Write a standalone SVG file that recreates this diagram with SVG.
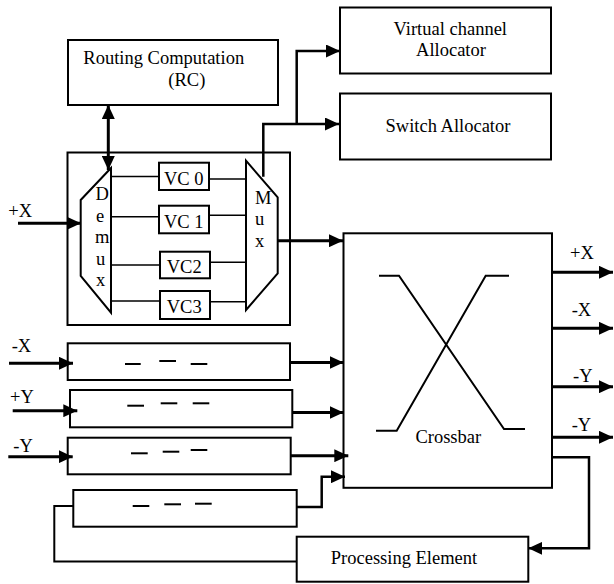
<svg xmlns="http://www.w3.org/2000/svg" width="614" height="584" viewBox="0 0 614 584">
  <style>
    .box { fill: #fff; stroke: #000; stroke-width: 2; }
    .shape { fill: none; stroke: #000; stroke-width: 2; stroke-linejoin: miter; }
    .thin { fill: none; stroke: #000; stroke-width: 1.6; }
    .wire { fill: none; stroke: #000; stroke-width: 3; }
    .wire2 { fill: none; stroke: #000; stroke-width: 2.5; }
    .dash { stroke: #000; stroke-width: 2; }
    text { font-family: "Liberation Serif", "Times New Roman", serif; font-size: 18.5px; fill: #000; }
    .mid { text-anchor: middle; }
  </style>
  <defs>
    <marker id="arrow" markerUnits="userSpaceOnUse" markerWidth="15" markerHeight="13" refX="14" refY="6.5" orient="auto">
      <path d="M0,0 L14,6.5 L0,13 z" fill="#000"/>
    </marker>
    <marker id="arrow-start" markerUnits="userSpaceOnUse" markerWidth="15" markerHeight="13" refX="14" refY="6.5" orient="auto-start-reverse">
      <path d="M0,0 L14,6.5 L0,13 z" fill="#000"/>
    </marker>
  </defs>

  <!-- Routing computation -->
  <g id="rc">
    <rect class="box" x="68" y="40" width="210" height="65"/>
    <text x="83.3" y="63.5">Routing Computation</text>
    <text x="168.3" y="86">(RC)</text>
  </g>

  <!-- Allocators -->
  <g id="vc-allocator">
    <rect class="box" x="340" y="7.5" width="211" height="66"/>
    <text class="mid" x="450.3" y="35">Virtual channel</text>
    <text class="mid" x="451" y="56">Allocator</text>
  </g>
  <g id="switch-allocator">
    <rect class="box" x="340" y="93.5" width="211" height="66"/>
    <text class="mid" x="448" y="132">Switch Allocator</text>
  </g>

  <!-- +X input port with virtual channels -->
  <g id="input-port-px">
    <rect class="box" x="67.5" y="152.5" width="222.5" height="172.5"/>
    <g id="demux">
      <polygon class="shape" points="111,168 80.7,200 80.7,276 111,312.7"/>
      <text x="95.5" y="200">D</text>
      <text x="96" y="221.7">e</text>
      <text x="95" y="242.7">m</text>
      <text x="96" y="265">u</text>
      <text x="96" y="286">x</text>
    </g>
    <g id="vc0">
      <rect class="box" x="159" y="162.7" width="50" height="27.3"/>
      <text x="164" y="185">VC 0</text>
    </g>
    <g id="vc1">
      <rect class="box" x="159" y="205.7" width="50" height="27.6"/>
      <text x="164" y="228.3">VC 1</text>
    </g>
    <g id="vc2">
      <rect class="box" x="160" y="251.7" width="50" height="26.6"/>
      <text x="166.7" y="273.3">VC2</text>
    </g>
    <g id="vc3">
      <rect class="box" x="160" y="291" width="50" height="28"/>
      <text x="166.7" y="313.3">VC3</text>
    </g>
    <g id="mux">
      <polygon class="shape" points="246,160.7 277.7,197.3 277.7,273.3 246,310"/>
      <text x="255" y="204">M</text>
      <text x="255" y="225">u</text>
      <text x="255" y="246.7">x</text>
    </g>
    <g id="vc-lines">
      <line class="thin" x1="111" y1="176.5" x2="159" y2="176.5"/>
      <line class="thin" x1="209" y1="179" x2="246" y2="179"/>
      <line class="thin" x1="111" y1="216.7" x2="159" y2="216.7"/>
      <line class="thin" x1="209" y1="215.3" x2="246" y2="215.3"/>
      <line class="thin" x1="111" y1="265" x2="160" y2="265"/>
      <line class="thin" x1="210" y1="262.3" x2="246" y2="262.3"/>
      <line class="thin" x1="111" y1="301" x2="160" y2="301"/>
      <line class="thin" x1="210" y1="301.7" x2="246" y2="301.7"/>
    </g>
  </g>

  <!-- Other input buffers -->
  <g id="buffer-mx">
    <rect class="box" x="67.7" y="343.3" width="222.3" height="36.7"/>
    <line class="dash" x1="125" y1="364" x2="140.7" y2="364"/>
    <line class="dash" x1="159.3" y1="361" x2="176" y2="361"/>
    <line class="dash" x1="190.7" y1="364" x2="207.3" y2="364"/>
  </g>
  <g id="buffer-py">
    <rect class="box" x="70" y="390" width="222.3" height="37.3"/>
    <line class="dash" x1="127.3" y1="405.7" x2="144" y2="405.7"/>
    <line class="dash" x1="160.7" y1="403.3" x2="177.3" y2="403.3"/>
    <line class="dash" x1="192.7" y1="403.3" x2="209.3" y2="403.3"/>
  </g>
  <g id="buffer-my">
    <rect class="box" x="67.7" y="437.7" width="223" height="36.6"/>
    <line class="dash" x1="131" y1="453.3" x2="147.7" y2="453.3"/>
    <line class="dash" x1="162.7" y1="451.7" x2="179.3" y2="451.7"/>
    <line class="dash" x1="190.7" y1="450" x2="207.3" y2="450"/>
  </g>
  <g id="buffer-pe">
    <rect class="box" x="73.3" y="490" width="223.4" height="36.7"/>
    <line class="dash" x1="132.7" y1="506" x2="149.3" y2="506"/>
    <line class="dash" x1="164.3" y1="504.3" x2="181" y2="504.3"/>
    <line class="dash" x1="195" y1="503.7" x2="211.7" y2="503.7"/>
  </g>

  <!-- Crossbar -->
  <g id="crossbar">
    <rect class="box" x="343.5" y="233.3" width="208.5" height="254.5"/>
    <polyline class="shape" points="379,275.7 399,275.7 504,429 525,429"/>
    <polyline class="shape" points="376,430.7 396.7,430.7 485.7,275.7 509,275.7"/>
    <text class="mid" x="448.3" y="443">Crossbar</text>
  </g>

  <!-- Processing element -->
  <g id="processing-element">
    <rect class="box" x="296.7" y="536.7" width="231.6" height="45"/>
    <text class="mid" x="404" y="564">Processing Element</text>
  </g>

  <!-- Port labels -->
  <g id="port-labels">
    <text x="8.3" y="216.7">+X</text>
    <text x="11.7" y="352.3">-X</text>
    <text x="10" y="403.3">+Y</text>
    <text x="13.3" y="452.3">-Y</text>
    <text x="570" y="259.3">+X</text>
    <text x="571.7" y="316">-X</text>
    <text x="573" y="381.7">-Y</text>
    <text x="571.7" y="430.7">-Y</text>
  </g>

  <!-- Connectors -->
  <g id="connectors">
    <line class="wire" x1="108.3" y1="105" x2="108.3" y2="170" marker-start="url(#arrow-start)" marker-end="url(#arrow)"/>
    <line class="wire" x1="18" y1="223.3" x2="81" y2="223.3" marker-end="url(#arrow)"/>
    <line class="wire" x1="9" y1="363.3" x2="73" y2="363.3" marker-end="url(#arrow)"/>
    <line class="wire" x1="12.7" y1="410.7" x2="77.3" y2="410.7" marker-end="url(#arrow)"/>
    <line class="wire" x1="8.3" y1="456.7" x2="72.7" y2="456.7" marker-end="url(#arrow)"/>
    <polyline class="wire2" points="263.3,176.7 263.3,124 339,124" marker-end="url(#arrow)"/>
    <polyline class="wire2" points="296.7,124 296.7,51 340,51" marker-end="url(#arrow)"/>
    <line class="wire" x1="277.7" y1="240.7" x2="343" y2="240.7" marker-end="url(#arrow)"/>
    <line class="wire" x1="290" y1="362.5" x2="343.5" y2="362.5" marker-end="url(#arrow)"/>
    <line class="wire" x1="292.3" y1="412.5" x2="343.5" y2="412.5" marker-end="url(#arrow)"/>
    <line class="wire" x1="290.7" y1="455.7" x2="348.3" y2="455.7" marker-end="url(#arrow)"/>
    <polyline class="wire2" points="296.7,507 321.7,507 321.7,476.7 345,476.7" marker-end="url(#arrow)"/>
    <line class="wire" x1="552" y1="272.3" x2="613" y2="272.3" marker-end="url(#arrow)"/>
    <line class="wire" x1="552" y1="328.3" x2="613" y2="328.3" marker-end="url(#arrow)"/>
    <line class="wire" x1="552" y1="386.7" x2="613" y2="386.7" marker-end="url(#arrow)"/>
    <line class="wire" x1="552" y1="437.3" x2="613" y2="437.3" marker-end="url(#arrow)"/>
    <polyline class="wire2" points="552,457.3 589,457.3 589,548.3 528.3,548.3" marker-end="url(#arrow)"/>
    <polyline class="shape" points="296.7,561.5 54.3,561.5 54.3,506 73.3,506"/>
  </g>
</svg>
